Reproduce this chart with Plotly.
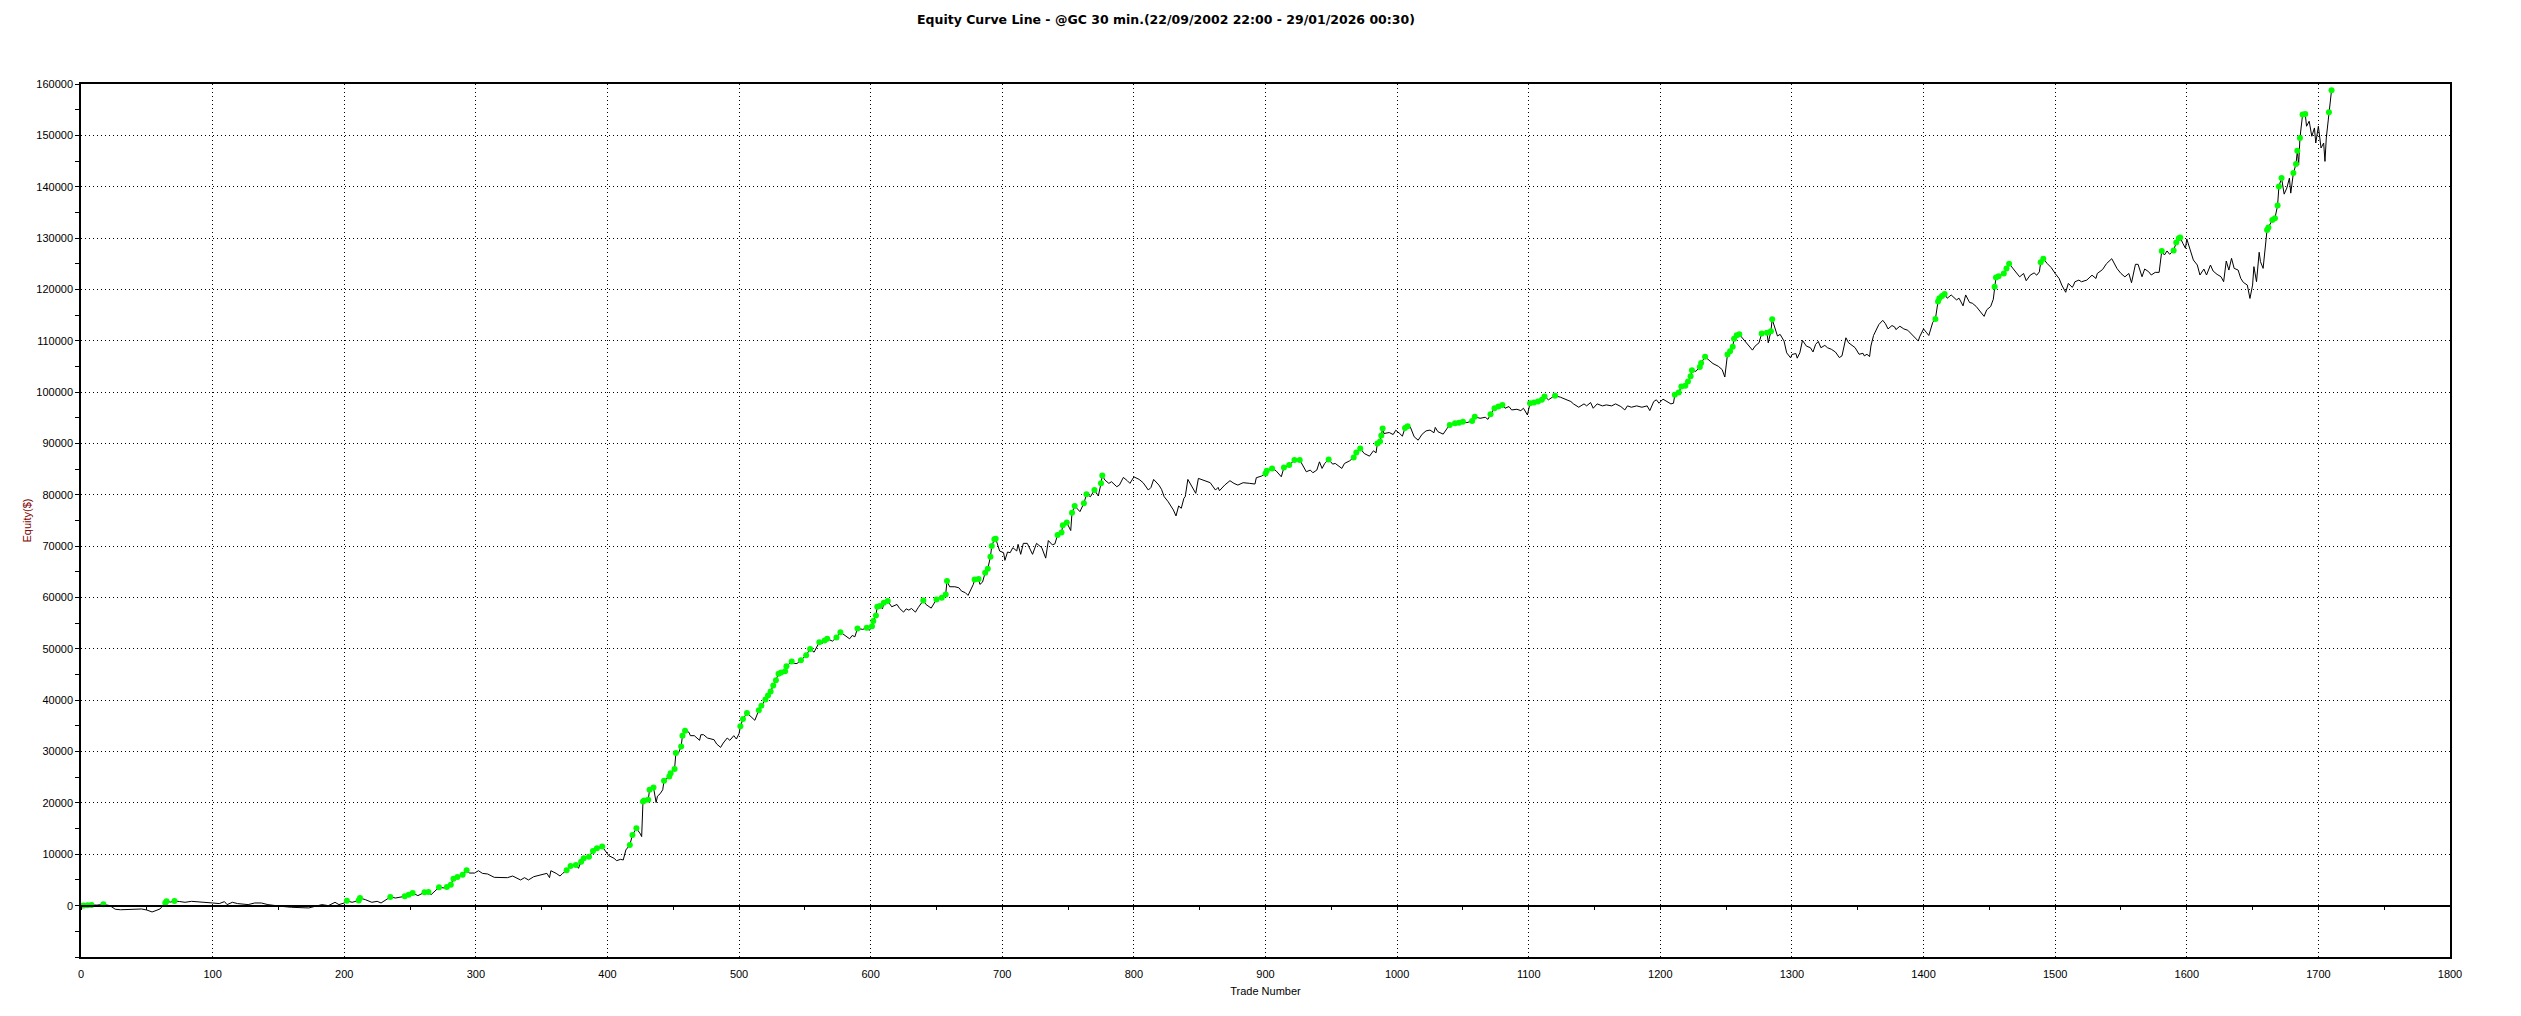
import numpy as np
import plotly.graph_objects as go

# ------------------------------------------------------------
# DATOS
# ------------------------------------------------------------
TITULO = "Equity Curve Line - @GC 30 min.(22/09/2002 22:00 - 29/01/2026 00:30)"

trade_num = [
    0, 2, 5, 8, 12, 17, 22, 26, 30, 33, 38, 42, 46, 50, 54, 57, 60, 64, 65, 68, 71, 75, 79, 84, 89, 94,
    100, 105, 109, 111, 115, 119, 127, 132, 137, 142, 147, 152, 160, 167, 173, 178, 183, 188, 193, 196,
    200, 202, 206, 211, 212, 216, 221, 225, 228, 235, 239, 246, 249, 252, 256, 261, 264, 266, 272, 276,
    278, 281, 283, 286, 290, 293, 295, 299,
    302, 305, 309, 314, 319, 324, 328, 332, 334, 337, 340, 344, 348, 352, 354, 356, 357, 361, 364, 366,
    369, 372, 376, 378, 380, 382, 386, 389, 392, 396, 399, 401, 405, 407, 410, 412, 414, 415, 417, 419,
    422, 425, 426, 427, 428, 431, 432, 435, 436, 437, 438, 440, 442, 443, 447, 448, 451, 452, 454, 456,
    457, 459, 462, 463, 466, 470, 471, 473, 476, 481, 483, 486, 488, 491, 493, 496, 498, 500, 501, 503,
    506, 510, 512, 515, 517,
    520, 522, 524, 526, 528, 530, 532, 535, 536, 540, 542, 544, 547, 551, 554, 557, 561, 563, 565, 567,
    571, 574, 577, 581, 584, 586, 588, 590, 592, 594, 597, 599, 601, 602, 604, 605, 607, 609, 610, 613,
    616, 620, 622, 625, 627, 629, 631, 634, 636, 640, 642, 646, 650, 654, 657, 658, 660, 664, 667, 669,
    672, 674, 678, 679, 682, 683, 685, 687, 689, 691, 692, 694, 695, 696, 698, 701, 702, 704, 706, 708,
    711, 712, 714, 716, 719, 723, 726, 730, 732,
    733, 735, 738, 740, 742, 745, 746, 749, 752, 753, 755, 759, 762, 764, 767, 770, 773, 775, 776, 778,
    781, 783, 787, 789, 792, 795, 797, 800, 804, 807, 811, 813, 815, 819, 821, 823, 826, 830, 832, 834,
    836, 838, 839, 841, 844, 847, 849, 853, 858, 862, 864, 865, 869, 873, 876, 879, 883, 888, 892, 893,
    897, 900, 901, 905, 908, 912, 914, 918, 922, 926, 928, 931, 934, 936, 939, 941, 943, 945, 948, 951,
    953, 958, 960, 964, 967, 969, 972, 975, 979, 982, 984, 985, 987, 988, 989, 990, 994, 997, 999, 1002,
    1004, 1006, 1008, 1010, 1013, 1016, 1019, 1022,
    1025, 1028, 1029, 1031, 1035, 1038, 1040, 1044, 1047, 1050, 1053, 1057, 1059, 1063, 1067, 1069,
    1071, 1074, 1077, 1080, 1082, 1085, 1087, 1091, 1094, 1096, 1099, 1101, 1104, 1107, 1110, 1112,
    1115, 1118, 1120, 1124, 1128, 1132, 1134, 1138, 1142, 1144, 1147, 1149, 1152, 1156, 1159, 1163,
    1166, 1170, 1173, 1175, 1178, 1182, 1186, 1190, 1192, 1195, 1197, 1199, 1202, 1205, 1208, 1210,
    1211, 1214, 1216, 1219, 1221, 1223, 1224, 1227, 1230, 1231, 1234, 1237, 1240, 1244, 1247, 1249,
    1250, 1251, 1253, 1255, 1256, 1258, 1260, 1262, 1265, 1267, 1270, 1272, 1275, 1277, 1281, 1282,
    1284, 1285, 1287, 1289, 1291, 1294, 1296, 1299, 1300, 1303, 1304, 1306, 1308, 1311,
    1314, 1316, 1318, 1320, 1322, 1325, 1327, 1330, 1333, 1336, 1338, 1341, 1343, 1346, 1348, 1351,
    1354, 1355, 1357, 1359, 1360, 1362, 1366, 1369, 1371, 1373, 1376, 1378, 1379, 1382, 1385, 1388,
    1391, 1394, 1396, 1397, 1400, 1402, 1404, 1407, 1409, 1411, 1412, 1414, 1416, 1418, 1421, 1425,
    1427, 1430, 1432, 1435, 1437, 1440, 1443, 1446, 1448, 1451, 1453, 1454, 1455, 1457, 1461, 1463,
    1465, 1467, 1470, 1473, 1476, 1478, 1481, 1484, 1486, 1488, 1489, 1491, 1494, 1497, 1500, 1503,
    1505, 1508, 1510, 1513, 1514, 1515, 1518, 1520, 1524, 1528, 1531, 1532, 1536, 1539, 1543, 1545,
    1547, 1550, 1553, 1556, 1558, 1561, 1563,
    1566, 1568, 1571, 1573, 1576, 1579, 1581, 1583, 1585, 1587, 1590, 1592, 1594, 1595, 1597, 1599,
    1600, 1602, 1605, 1608, 1610, 1613, 1615, 1618, 1620, 1623, 1626, 1628, 1630, 1632, 1634, 1636,
    1639, 1641, 1643, 1646, 1648, 1650, 1651, 1653, 1655, 1656, 1658, 1661, 1662, 1665, 1667, 1669,
    1670, 1672, 1674, 1676, 1678, 1679, 1681, 1683, 1684, 1685, 1686, 1688, 1690, 1691, 1693, 1695,
    1697, 1698, 1700, 1701, 1702, 1704, 1705, 1706, 1708, 1710,
]

equity = [
    0, 50, 100, 150, 100, 250, 0, -700, -800, -750, -650, -700, -650, -850, -1230, -950, -650, 520, 840, 700, 900, 800, 650, 840, 700, 600,
    520, 400, 780, 200, 650, 400, 200, 520, 520, 200, 0, -130, -320, -450, -450, -130, 200, 0, 650, 200,
    520, 950, 650, 1000, 1490, 1170, 650, 840, 520, 1690, 1490, 1820, 2140, 2460, 1950, 2590, 2650, 2140, 3570, 3440,
    3630, 4090, 5250, 5580, 6030, 6870, 6350, 6350,
    6800, 6290, 6160, 5510, 5500, 5450, 5770, 5300, 5000, 5450, 5000, 5640, 5960, 6160, 6290, 5450, 6800, 6290, 5770, 6290,
    6880, 7720, 7920, 7270, 8570, 9220, 9540, 10650, 11170, 11500, 10330, 9740, 9220, 8760, 9020, 8890, 10850, 11170, 11820, 13770,
    15070, 13970, 13450, 20280, 20470, 20600, 22560, 23010, 21580, 20080, 21320, 21780, 22560, 24310, 25160, 25800, 26590, 29710, 29710, 31010,
    33100, 34070, 33750, 33100, 33100, 32190, 33290, 33290, 32640, 32310, 31470, 30820, 31670, 32640, 32190, 33100, 32450, 33490, 34920, 36350,
    37520, 36560, 36090, 38040, 38950,
    40130, 40900, 41700, 42860, 43900, 45140, 45400, 45660, 46630, 47540, 47150, 47150, 47800, 48780, 50000, 49360, 51310, 51000, 51640, 51960,
    51510, 52220, 53260, 52610, 51960, 52610, 52350, 53980, 53900, 53800, 54100, 53600, 54430, 55410, 56510, 58200, 58330, 57800, 58980, 59310,
    58200, 58650, 57870, 57160, 57800, 57550, 57870, 57160, 58000, 59440, 58650, 57940, 59640, 59960, 60610, 63210, 62100, 62100, 61900, 61260,
    60930, 60410, 62560, 63530, 63600, 62560, 63000, 64830, 65610, 67950, 70030, 71330, 71460, 70680, 69060, 68730, 67240, 68860, 68730, 69710,
    69060, 70360, 68410, 70550, 70550, 68410, 70550, 69710, 68080,
    67670, 71100, 70260, 70450, 72200, 72650, 74080, 74590, 73040, 76530, 77830, 76730, 78350, 80090, 79640, 80930, 79770, 82230, 83780, 82870,
    82230, 82550, 81580, 81900, 83390, 82750, 82230, 83500, 83000, 82360, 80930, 81450, 83000, 81900, 81070, 79640, 78670, 77050, 75890, 77830,
    77380, 79320, 79640, 83000, 81710, 80290, 83200, 82880, 82360, 80930, 81450, 80800, 81900, 82750, 82230, 81900, 82360, 82230, 82100, 83330,
    83650, 84170, 84690, 85140, 84690, 83520, 85300, 85790, 86760, 86800, 85790, 84490, 84820, 84300, 84820, 86430, 85140, 86110, 86900, 85980,
    86110, 85140, 86110, 86630, 87270, 88250, 89020, 88050, 87530, 88570, 88180, 90000, 90380, 91550, 92900, 91930, 92130, 91740, 92580, 91930,
    91420, 93000, 93360, 93230, 91290, 90640, 91800, 92450,
    92610, 92090, 93130, 92290, 91820, 92940, 93590, 93920, 94050, 94240, 94050, 94400, 95220, 94900, 95100, 94700,
    95680, 96860, 97190, 97510, 96860, 97190, 96530, 96660, 96400, 96860, 95550, 97840, 97970, 98170, 98500, 99150,
    98500, 99020, 99280, 99020, 98630, 98170, 97710, 97060, 97710, 97320, 97970, 96860, 97710, 97320, 97510, 97320,
    97710, 97190, 96530, 97320, 97060, 97320, 97060, 97320, 96400, 98170, 98500, 97840, 98630, 98170, 97710, 97840,
    99480, 99930, 101110, 101240, 102090, 103070, 104250, 104050, 104900, 105690, 106870, 106210, 105560, 105040, 104380, 102940,
    105040, 107320, 107980, 108830, 110400, 111050, 111250, 110600, 109610, 109090, 108180, 108960, 109610, 111400, 111580, 109610,
    111840, 114190, 112750, 110920, 111250, 109940, 107650, 106670, 107320, 107520, 106610, 107650, 110070, 108960,
    108650, 107820, 109300, 109870, 108650, 109100, 108650, 108330, 107820, 106730, 107050, 110580, 109620, 108970, 108650, 107370,
    107560, 107050, 107370, 106920, 108970, 111030, 113150, 113980, 113340, 112310, 112960, 112700, 112180, 112830, 112310, 112050,
    111220, 110580, 109940, 110770, 112310, 111670, 111030, 113600, 114240, 117640, 118280, 118730, 119100, 118280, 118920, 117960,
    118280, 116800, 118920, 117450, 117320, 116680, 115710, 114750, 116030, 116680, 118090, 120530, 122330, 122580, 123100, 124060,
    125020, 124380, 123420, 122450, 123100, 121690, 122770, 123220, 122770, 123420, 125280, 125980, 125020, 124250, 123100, 122130,
    120850, 119440, 121170, 120400, 120850, 121490, 121810, 121490, 121810, 122770, 122130, 123100, 123870, 125020, 125980, 125020,
    124060, 123100, 122450, 123100, 121300, 124890, 124880,
    122470, 123970, 123450, 122800, 123320, 123320, 127490, 126700, 127490, 126840, 127600, 129120, 129960, 130090, 128980, 128010,
    129830, 128330, 125730, 124750, 122800, 123970, 122800, 124750, 123580, 122930, 122470, 121500, 125530, 123770, 126050, 124100,
    123770, 122150, 121370, 120850, 118240, 120850, 124430, 121500, 127230, 125400, 124100, 131590, 132040, 133540, 133870, 136340,
    140050, 141680, 138550, 139730, 141680, 138750, 142650, 144410, 147020, 144280, 149490, 154050, 154180, 151770, 152750, 149820,
    151440, 148510, 151770, 149490, 147540, 148510, 144930, 149490, 154500, 158800,
]

x_ticks = list(range(0, 1801, 100))
y_ticks = list(range(0, 160001, 10000))

# ------------------------------------------------------------
# NUEVOS MÁXIMOS (puntos verdes)
# ------------------------------------------------------------
eq = np.array(equity, dtype=float)
tn = np.array(trade_num)
prev_max = np.concatenate([[-np.inf], np.maximum.accumulate(eq)[:-1]])
nuevo_max = eq > prev_max

FUENTE = "Arial, Liberation Sans, sans-serif"

fig = go.Figure()
fig.add_trace(go.Scatter(x=tn, y=eq, mode="lines", line=dict(color="black", width=1),
                         name="Equity", hoverinfo="x+y"))
fig.add_trace(go.Scatter(x=tn[nuevo_max], y=eq[nuevo_max], mode="markers",
                         marker=dict(color="#00FF00", size=6, line=dict(width=0)),
                         name="New high", xaxis="x2", yaxis="y"))

# la página deja 8px de margen en el body, se descuenta aquí
fig.update_layout(
    width=2513, height=1008,
    margin=dict(l=73, r=71, t=76, b=59),
    paper_bgcolor="white", plot_bgcolor="white",
    showlegend=False,
    font=dict(family=FUENTE, size=11, color="black"),
    title=dict(text=f"<b>{TITULO}</b>", x=0.4608, xref="container", xanchor="center",
               y=0.988, yref="container", yanchor="middle",
               font=dict(family="DejaVu Sans", size=12.5, color="black")),
    xaxis=dict(
        range=[0, 1800], tickvals=x_ticks, ticktext=[str(v) for v in x_ticks],
        showgrid=True, gridcolor="black", gridwidth=1, griddash="1px,3px",
        showline=True, linecolor="black", linewidth=2, mirror=True,
        ticks="outside", ticklen=6, tickcolor="rgba(0,0,0,0)",
        zeroline=False,
        title=dict(text="Trade Number", standoff=8, font=dict(size=11)),
    ),
    xaxis2=dict(
        range=[0, 1800], overlaying="x", anchor="free", position=10000 / 170000,
        dtick=50, tick0=0, ticks="outside", ticklen=4, tickcolor="black", tickwidth=1,
        showticklabels=False, showgrid=False, zeroline=False,
        showline=True, linecolor="black", linewidth=1.5,
    ),
    yaxis=dict(
        range=[-10000, 160000], tickvals=y_ticks, ticktext=[str(v) for v in y_ticks],
        showgrid=True, gridcolor="black", gridwidth=1, griddash="1px,3px",
        showline=True, linecolor="black", linewidth=1.5, mirror=True,
        ticks="outside", ticklen=4, tickcolor="black",
        minor=dict(dtick=5000, tick0=0, ticks="outside", ticklen=4, tickcolor="black", showgrid=False),
        zeroline=False,
        title=dict(text="Equity($)", standoff=2, font=dict(size=11, color="#800000")),
    ),
)

fig.write_html("out.html")
